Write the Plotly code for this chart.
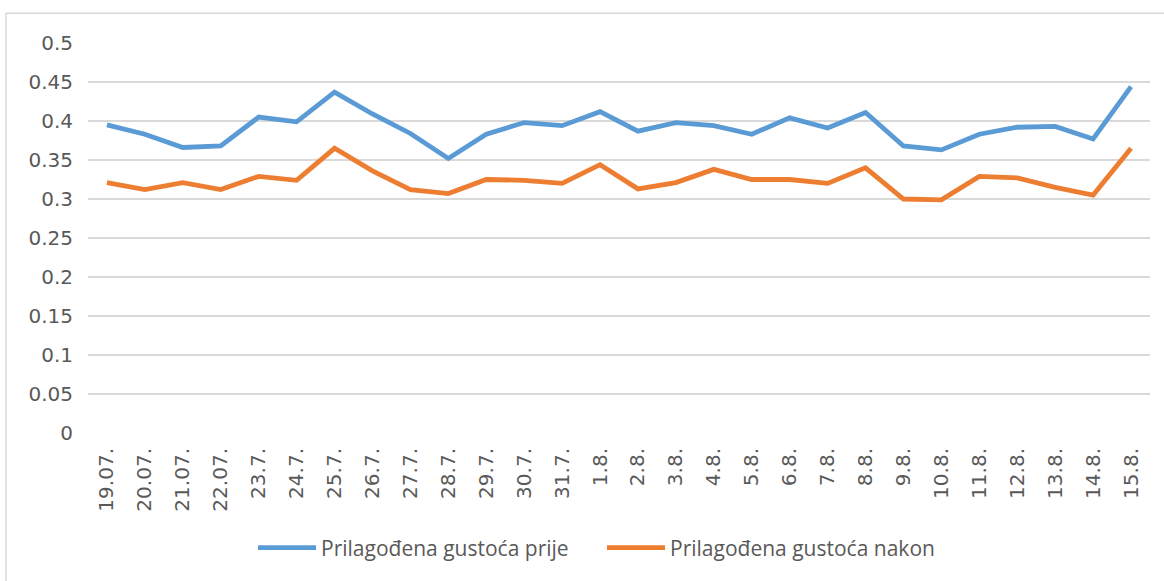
import plotly.graph_objects as go

# Dates on the category axis
dates = ["19.07.", "20.07.", "21.07.", "22.07.", "23.7.", "24.7.", "25.7.", "26.7.",
         "27.7.", "28.7.", "29.7.", "30.7.", "31.7.", "1.8.", "2.8.", "3.8.", "4.8.",
         "5.8.", "6.8.", "7.8.", "8.8.", "9.8.", "10.8.", "11.8.", "12.8.", "13.8.",
         "14.8.", "15.8."]

# Adjusted density before
gustoca_prije = [0.395, 0.383, 0.366, 0.368, 0.405, 0.399, 0.437, 0.409,
                 0.384, 0.352, 0.383, 0.398, 0.394, 0.412, 0.387, 0.398, 0.394,
                 0.383, 0.404, 0.391, 0.411, 0.368, 0.363, 0.383, 0.392, 0.393,
                 0.377, 0.444]

# Adjusted density after
gustoca_nakon = [0.321, 0.312, 0.321, 0.312, 0.329, 0.324, 0.365, 0.336,
                 0.312, 0.307, 0.325, 0.324, 0.320, 0.344, 0.313, 0.321, 0.338,
                 0.325, 0.325, 0.320, 0.340, 0.300, 0.299, 0.329, 0.327, 0.315,
                 0.305, 0.365]

series_names = ["Prilagođena gustoća prije", "Prilagođena gustoća nakon"]
y_ticks = [0, 0.05, 0.1, 0.15, 0.2, 0.25, 0.3, 0.35, 0.4, 0.45, 0.5]
y_tick_text = ["0", "0.05", "0.1", "0.15", "0.2", "0.25", "0.3", "0.35", "0.4", "0.45", "0.5"]

TEXT = "#595959"
FONT = "Open Sans"
TICK_FONT = "DejaVu Sans"

fig = go.Figure()
fig.add_trace(go.Scatter(x=dates, y=gustoca_prije, mode="lines", name=series_names[0],
                         line=dict(color="#5b9bd5", width=4.8)))
fig.add_trace(go.Scatter(x=dates, y=gustoca_nakon, mode="lines", name=series_names[1],
                         line=dict(color="#ed7d31", width=4.8)))

fig.update_layout(
    width=1164, height=581,
    margin=dict(l=88, r=14, t=43, b=146),
    paper_bgcolor="white", plot_bgcolor="white",
    font=dict(family=FONT, color=TEXT, size=20),
    showlegend=True,
    legend=dict(orientation="h", x=0.484, xanchor="center", y=-0.295, yanchor="middle",
                font=dict(family=FONT, size=21, color=TEXT), itemwidth=58,
                entrywidth=276, tracegroupgap=0),
    xaxis=dict(type="category", range=[-0.5, len(dates) - 0.5], tickangle=-90,
               showgrid=False, zeroline=False, showline=False, ticks="",
               tickfont=dict(family=TICK_FONT, size=20, color=TEXT), ticklabelstandoff=10),
    yaxis=dict(range=[0, 0.5], tickvals=y_ticks, ticktext=y_tick_text,
               showgrid=True, gridcolor="#d9d9d9", gridwidth=1.5, zeroline=False,
               showline=False, ticks="", tickfont=dict(family=TICK_FONT, size=20, color=TEXT),
               ticklabelstandoff=14),
)

# Chart frame
fig.add_shape(type="rect", xref="paper", yref="paper", x0=-0.0772, x1=1.06,
              y0=-0.45, y1=1.0765, line=dict(color="#d9d9d9", width=1.5),
              fillcolor="rgba(0,0,0,0)", layer="below")

fig.write_html("out.html")
